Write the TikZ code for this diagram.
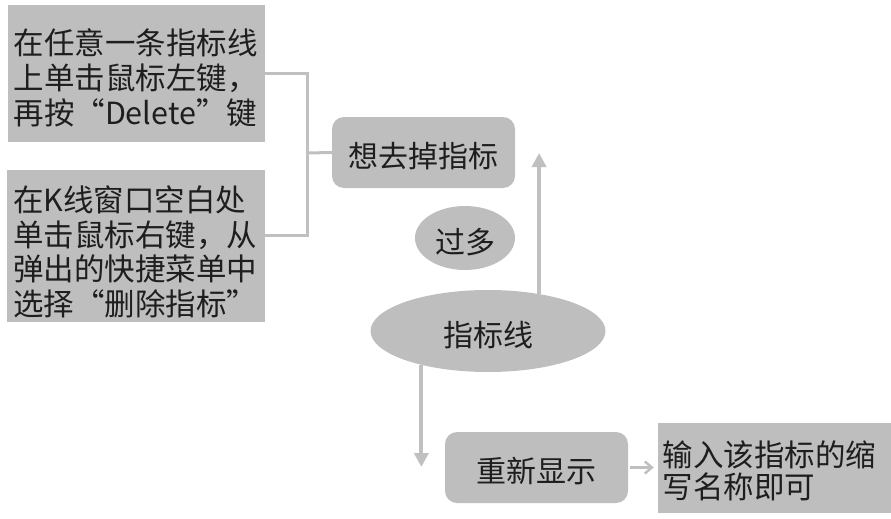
\documentclass[tikz,border=0pt]{standalone}
\usepackage{fontspec}
\setmainfont{Noto Sans CJK SC}
\usetikzlibrary{arrows.meta,shapes.geometric}
\definecolor{boxgray}{RGB}{190,190,190}
\definecolor{linegray}{RGB}{192,192,192}
\definecolor{txt}{RGB}{30,30,30}
\newcommand\lowr[2][4pt]{\raisebox{-#1}[\height][\depth]{#2}}
\tikzset{
  sqbox/.style={rectangle,fill=boxgray,text=txt,inner sep=0pt,align=left,anchor=center},
  rbox/.style={rectangle,rounded corners=12pt,fill=boxgray,text=txt,inner sep=0pt,anchor=center},
  ebox/.style={ellipse,fill=boxgray,text=txt,inner sep=0pt,anchor=center},
  bracket/.style={draw=linegray,line width=3pt},
  bigarr/.style={draw=linegray,line width=4pt,-{Triangle[width=14pt,length=14pt]}},
  smallarr/.style={draw=linegray,line width=2.5pt,-{Straight Barb[width=12pt,length=7pt]}}
}
\begin{document}
\begin{tikzpicture}[x=1pt,y=-1pt]
\useasboundingbox (0,0) rectangle (891,519);
\node[sqbox,minimum width=257pt,minimum height=137pt] (b1) at (136.5,73.5)
  {\lowr[4pt]{\fontsize{30.5}{35}\selectfont\parbox{246pt}{在任意一条指标线\\上单击鼠标左键，\\再按“Delete”键}}};
\node[sqbox,minimum width=258pt,minimum height=152pt] (b2) at (136,246)
  {\lowr[6pt]{\fontsize{30.5}{34.5}\selectfont\parbox{246pt}{在K线窗口空白处\\单击鼠标右键，从\\弹出的快捷菜单中\\选择“删除指标”}}};
\node[rbox,minimum width=183pt,minimum height=71pt] (want) at (423.5,152.5)
  {\lowr{\fontsize{30}{35}\selectfont 想去掉指标}};
\node[ebox,minimum width=100pt,minimum height=64pt] (much) at (465,238)
  {\lowr{\fontsize{30}{35}\selectfont 过多}};
\node[ebox,minimum width=235pt,minimum height=82pt] (ell) at (488,331)
  {\lowr{\fontsize{30}{35}\selectfont 指标线}};
\node[rbox,minimum width=183pt,minimum height=71pt] (redo) at (536.5,467.5)
  {\lowr{\fontsize{30}{35}\selectfont 重新显示}};
\node[sqbox,minimum width=233pt,minimum height=90pt] (inp) at (774.5,468)
  {\lowr[3pt]{\fontsize{30.5}{32}\selectfont\parbox{224pt}{输入该指标的缩\\写名称即可}}};
\coordinate (j) at (307,153);
\coordinate (uptip) at (538,153);
\coordinate (downtip) at (423,467);
\draw[bracket] (b1.east) -| (j);
\draw[bracket] ([yshift=11pt]b2.east) -| (j);
\draw[bracket] (j) -- (want.west);
\draw[bigarr] (ell.36.5) -- (ell.36.5 |- uptip);
\draw[bigarr] (ell.207.8) -- (ell.207.8 |- downtip);
\draw[smallarr] ([xshift=2pt]redo.east) -- ([xshift=-4pt]redo.east -| inp.west);
\end{tikzpicture}
\end{document}
